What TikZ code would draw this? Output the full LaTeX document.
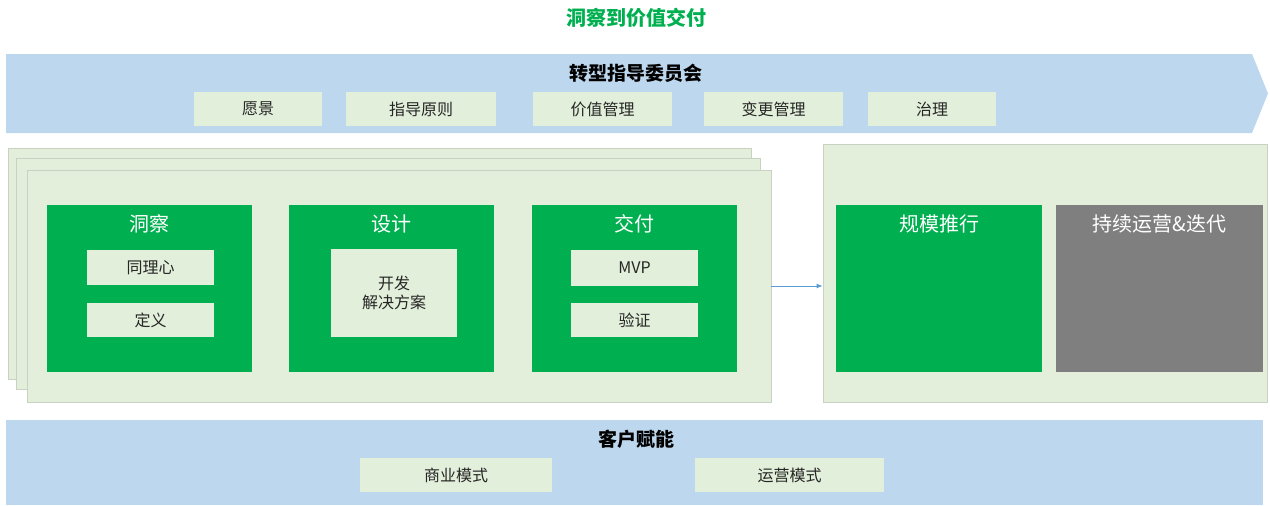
\documentclass[tikz,border=0pt]{standalone}
\usepackage{fontspec}
\setmainfont{Noto Sans CJK SC}
\usetikzlibrary{arrows.meta}
\definecolor{bandblue}{HTML}{BDD7EE}
\definecolor{lightgreen}{HTML}{E2EFDA}
\definecolor{panelgreen}{HTML}{E4EFDB}
\definecolor{panelborder}{HTML}{C9D1C3}
\definecolor{mygreen}{HTML}{00B050}
\definecolor{mygray}{HTML}{7F7F7F}
\definecolor{textdark}{HTML}{262626}
\definecolor{arrowblue}{HTML}{5B9BD5}
\tikzset{
  subbox/.style={fill=lightgreen, draw=none, inner sep=0pt, font=\fontsize{16}{18}\selectfont, text=textdark},
  panel/.style={fill=panelgreen, draw=panelborder, line width=0.8pt, inner sep=0pt},
  greenbox/.style={fill=mygreen, draw=none, inner sep=0pt},
  innerbox/.style={fill=lightgreen, draw=none, inner sep=0pt, font=\fontsize{16}{19}\selectfont, text=textdark, align=center},
  boxtitle/.style={text=white, font=\fontsize{20}{22}\selectfont, inner sep=0pt},
  bandtitle/.style={font=\bfseries\fontsize{19}{21}\selectfont, text=black, inner sep=0pt},
}
\begin{document}
\begin{tikzpicture}[x=1pt,y=-1pt]
\useasboundingbox (0,0) rectangle (1270,506);
% title
\node[text=mygreen, font=\bfseries\fontsize{20}{22}\selectfont, inner sep=0pt] (title) at (636,18) {洞察到价值交付};
% top band
\fill[bandblue] (6,54) -- (1252,54) -- (1268,93.5) -- (1252,133) -- (6,133) -- cycle;
\node[bandtitle] (tband) at (636,73) {转型指导委员会};
\node[subbox, minimum width=128pt, minimum height=34pt] (v1) at (258,109) {愿景};
\node[subbox, minimum width=150pt, minimum height=34pt] (v2) at (421,109) {指导原则};
\node[subbox, minimum width=139pt, minimum height=34pt] (v3) at (602.5,109) {价值管理};
\node[subbox, minimum width=139pt, minimum height=34pt] (v4) at (773.5,109) {变更管理};
\node[subbox, minimum width=128pt, minimum height=34pt] (v5) at (932,109) {治理};
% stacked panels
\node[panel, minimum width=743pt, minimum height=231pt] (p1) at (379.5,263.5) {};
\node[panel, minimum width=744pt, minimum height=231pt] (p2) at (388,273.5) {};
\node[panel, minimum width=744pt, minimum height=232pt] (front) at (399,286) {};
% green boxes
\node[greenbox, minimum width=205pt, minimum height=167pt] (g1) at (149.5,288.5) {};
\node[greenbox, minimum width=205pt, minimum height=167pt] (g2) at (391.5,288.5) {};
\node[greenbox, minimum width=205pt, minimum height=167pt] (g3) at (634.5,288.5) {};
\node[boxtitle] (t1) at (149.5,224) {洞察};
\node[boxtitle] (t2) at (391.5,224) {设计};
\node[boxtitle] (t3) at (634.5,224) {交付};
\node[innerbox, minimum width=127pt, minimum height=35pt] (i1) at (150.5,267.5) {同理心};
\node[innerbox, minimum width=127pt, minimum height=34pt] (i2) at (150.5,320) {定义};
\node[innerbox, minimum width=126pt, minimum height=88pt] (i3) at (394,293) {开发\\解决方案};
\node[innerbox, minimum width=127pt, minimum height=36pt] (i4) at (634.5,268) {MVP};
\node[innerbox, minimum width=127pt, minimum height=34pt] (i5) at (634.5,320) {验证};
% right panel
\node[panel, minimum width=444pt, minimum height=258pt] (right) at (1045,273) {};
\node[greenbox, minimum width=206pt, minimum height=167pt] (g4) at (939,288.5) {};
\node[fill=mygray, draw=none, inner sep=0pt, minimum width=207pt, minimum height=167pt] (g5) at (1159.5,288.5) {};
\node[boxtitle] (t4) at (939,224) {规模推行};
\node[boxtitle] (t5) at (1159.5,224) {持续运营\&迭代};
% arrow
\draw[arrowblue, line width=1pt, -{Latex[length=6pt,width=5pt]}] (front.east) -- (front.east -| right.west);
% bottom band
\fill[bandblue] (6,420) rectangle (1263,505);
\node[bandtitle] (bband) at (636,439) {客户赋能};
\node[subbox, minimum width=192pt, minimum height=34pt] (b1) at (456,475) {商业模式};
\node[subbox, minimum width=189pt, minimum height=34pt] (b2) at (789.5,475) {运营模式};
\end{tikzpicture}
\end{document}
